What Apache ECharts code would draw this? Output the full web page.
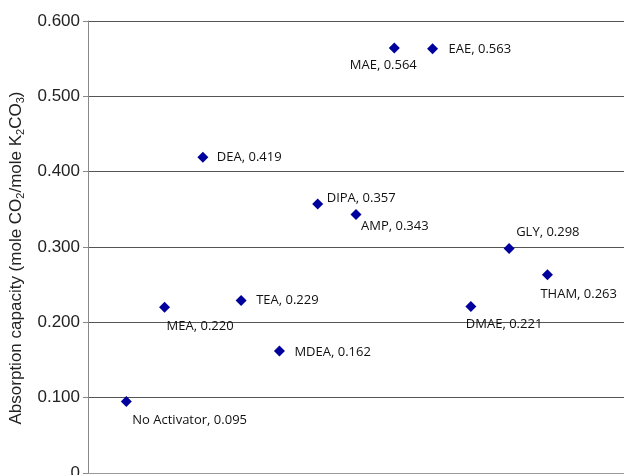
<!DOCTYPE html>
<html>
<head>
<meta charset="utf-8">
<script src="https://cdn.jsdelivr.net/npm/echarts@6/dist/echarts.min.js"></script>
<style>
html,body{margin:0;padding:0;background:#fff;}
#chart{width:624px;height:475px;}
</style>
</head>
<body>
<div id="chart"></div>
<script>
// activators, in the order they are plotted (x = 1..12)
var activators = ['No Activator', 'MEA', 'DEA', 'TEA', 'MDEA', 'DIPA', 'AMP', 'MAE', 'EAE', 'DMAE', 'GLY', 'THAM'];
var capacity = [0.095, 0.220, 0.419, 0.229, 0.162, 0.357, 0.343, 0.564, 0.563, 0.221, 0.298, 0.263];

// where each label sits around its marker: [align, dx, dy]
var labelPlace = [
    ['left', 6, 19], ['left', 2, 19], ['left', 14, 0], ['left', 15, 0],
    ['left', 15, 1], ['left', 9, -6], ['left', 5, 12], ['center', -11, 17],
    ['left', 16, 0], ['left', -5, 18], ['left', 7, -16], ['left', -7, 19]
];

var points = [];
for (var i = 0; i < activators.length; i++) {
    points.push({
        value: [i + 1, capacity[i]],
        name: activators[i],
        label: {
            align: labelPlace[i][0],
            offset: [labelPlace[i][1], labelPlace[i][2]]
        }
    });
}

var chart = echarts.init(document.getElementById('chart'));
chart.setOption({
    animation: false,
    grid: {left: 88, right: 0, top: 21, bottom: 2, containLabel: false, outerBoundsMode: 'none'},
    xAxis: {
        type: 'value', min: 0, max: 14,
        axisLine: {show: true, onZero: false, lineStyle: {color: '#999', width: 1}},
        axisTick: {show: false},
        axisLabel: {show: false},
        splitLine: {show: false}
    },
    yAxis: {
        type: 'value', min: 0, max: 0.6, interval: 0.1,
        name: '{n|Absorption capacity (mole CO}{s|2}{n|/mole K}{s|2}{n|CO}{s|3}{n|)}',
        nameLocation: 'middle',
        nameGap: 62,
        nameTextStyle: {
            padding: [0, 22, 0, 0],
            rich: {
                n: {fontFamily: 'Liberation Sans', fontSize: 17, color: '#222'},
                s: {fontFamily: 'Liberation Sans', fontSize: 11, color: '#222', verticalAlign: 'bottom', padding: [8, 0, 0, 0]}
            }
        },
        axisLine: {show: true, lineStyle: {color: '#888'}},
        axisTick: {show: true, inside: false, length: 5, lineStyle: {color: '#888'}},
        axisLabel: {
            fontFamily: 'Liberation Sans', fontSize: 17, color: '#222', margin: 8,
            formatter: function (v) { return v === 0 ? '0' : v.toFixed(3); }
        },
        splitLine: {show: true, lineStyle: {color: '#555', width: 1}}
    },
    series: [{
        type: 'scatter',
        symbol: 'diamond',
        symbolSize: 11,
        itemStyle: {color: '#00009c', opacity: 1},
        data: points,
        label: {
            show: true,
            position: 'inside',
            verticalAlign: 'middle',
            fontFamily: 'Open Sans',
            fontSize: 13,
            color: '#111',
            formatter: function (p) { return p.name + ', ' + p.value[1].toFixed(3); }
        }
    }]
});
</script>
</body>
</html>
